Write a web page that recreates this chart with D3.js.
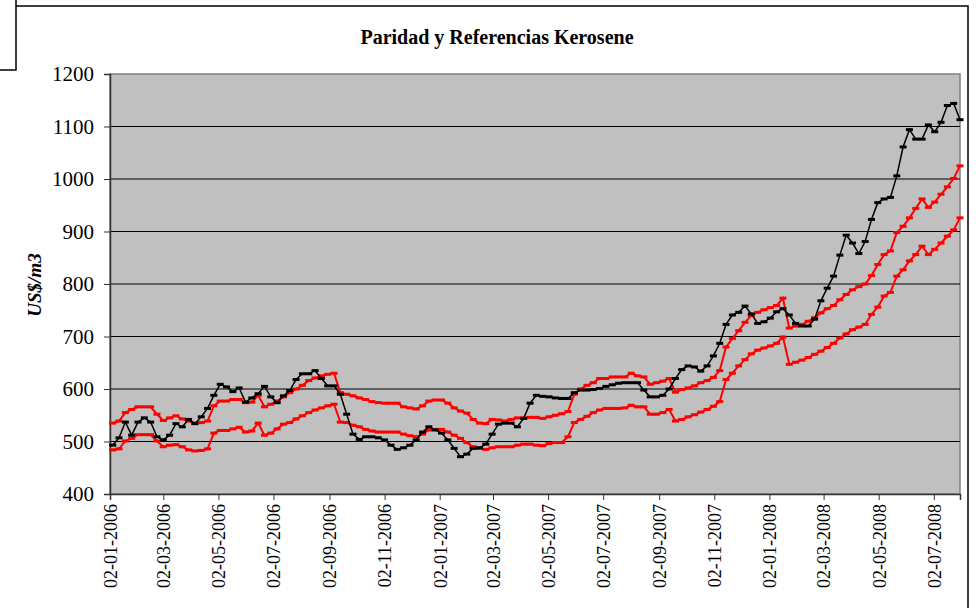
<!DOCTYPE html>
<html>
<head>
<meta charset="utf-8">
<script src="https://cdn.jsdelivr.net/npm/d3@7"></script>
<style>
  body { margin: 0; background: #fff; }
  svg { display: block; }
</style>
</head>
<body>
<div id="chart"></div>
<script>
// weekly observations, first one on 05-01-2006
const firstWeek = "05-01-2006";
const nWeeks = 135;

const tickLabels = ["02-01-2006", "02-03-2006", "02-05-2006", "02-07-2006", "02-09-2006",
  "02-11-2006", "02-01-2007", "02-03-2007", "02-05-2007", "02-07-2007", "02-09-2007",
  "02-11-2007", "02-01-2008", "02-03-2008", "02-05-2008", "02-07-2008"];

const yTicks = [400, 500, 600, 700, 800, 900, 1000, 1100, 1200];

// paridad (black)
const paridad = [493, 507, 537, 512, 537, 545, 537, 509, 503, 512, 534, 528, 542, 534, 547, 563,
  588, 609, 604, 595, 602, 575, 583, 591, 605, 585, 574, 587, 597, 618, 629, 629, 635, 620, 606,
  606, 590, 552, 514, 504, 509, 509, 507, 503, 493, 485, 488, 493, 503, 518, 528, 522, 516, 503,
  487, 471, 476, 487, 488, 495, 514, 533, 535, 535, 528, 544, 573, 588, 586, 585, 583, 582, 582,
  593, 598, 598, 599, 601, 605, 608, 611, 612, 612, 612, 598, 585, 585, 588, 600, 620, 637, 644,
  642, 634, 644, 663, 687, 723, 741, 746, 758, 743, 725, 728, 735, 747, 753, 741, 725, 720, 720,
  733, 768, 792, 815, 855, 893, 878, 858, 881, 923, 955, 962, 965, 1006, 1061, 1094, 1076, 1076,
  1103, 1090, 1108, 1140, 1144, 1113];

// referencia superior (red)
const refAlta = [535, 539, 555, 561, 566, 566, 566, 552, 540, 545, 549, 543, 539, 535, 536, 539,
  568, 577, 577, 580, 580, 574, 575, 588, 566, 571, 577, 585, 593, 600, 607, 616, 621, 625, 628,
  630, 593, 590, 587, 583, 580, 576, 574, 573, 573, 573, 566, 564, 562, 568, 577, 579, 579, 573,
  564, 558, 554, 542, 535, 534, 542, 541, 539, 542, 545, 545, 546, 546, 544, 547, 550, 553, 557,
  590, 600, 607, 612, 620, 620, 623, 623, 623, 630, 625, 623, 609, 612, 615, 620, 594, 599, 602,
  606, 612, 616, 622, 635, 680, 696, 711, 727, 740, 746, 751, 755, 759, 773, 716, 720, 723, 729,
  736, 745, 753, 759, 770, 780, 789, 795, 800, 816, 837, 856, 863, 898, 910, 926, 944, 962, 946,
  956, 971, 985, 1001, 1025];

// referencia inferior (red)
const refBaja = [484, 486, 501, 506, 513, 513, 513, 501, 490, 493, 494, 490, 484, 482, 483, 486,
  516, 521, 521, 524, 527, 518, 520, 535, 512, 516, 524, 533, 536, 543, 549, 555, 560, 564, 568,
  571, 537, 536, 531, 528, 523, 520, 518, 518, 518, 518, 514, 511, 509, 514, 522, 523, 523, 518,
  512, 506, 498, 490, 487, 485, 488, 490, 490, 490, 493, 495, 495, 493, 492, 496, 498, 498, 509,
  536, 542, 548, 555, 560, 563, 563, 563, 564, 569, 566, 566, 552, 552, 555, 561, 539, 542, 547,
  551, 556, 561, 567, 576, 618, 630, 644, 656, 667, 674, 678, 682, 687, 699, 647, 651, 655, 660,
  666, 672, 679, 687, 697, 705, 713, 718, 723, 742, 756, 777, 784, 815, 827, 844, 856, 872, 856,
  866, 878, 891, 903, 926];

const parseDate = d3.timeParse("%d-%m-%Y");
const dates = d3.range(nWeeks).map(i => d3.timeDay.offset(parseDate(firstWeek), 7 * i));

const W = 976, H = 608;
const plot = { left: 110, right: 960, top: 74, bottom: 494 };
const serif = "'Times New Roman', 'Liberation Serif', serif";

const svg = d3.select("#chart").append("svg")
    .attr("width", W)
    .attr("height", H);

svg.append("rect").attr("width", W).attr("height", H).attr("fill", "#fff");

// chart area frame
svg.append("path")
    .attr("d", "M16,0 V70 H0 M16,6 H968 V608")
    .attr("fill", "none")
    .attr("stroke", "#000")
    .attr("stroke-width", 1.5);

const x = d3.scaleTime()
    .domain([parseDate("02-01-2006"), parseDate("31-07-2008")])
    .range([plot.left, plot.right]);

const y = d3.scaleLinear()
    .domain([400, 1200])
    .range([plot.bottom, plot.top]);

// plot background
svg.append("rect")
    .attr("x", plot.left)
    .attr("y", plot.top)
    .attr("width", plot.right - plot.left)
    .attr("height", plot.bottom - plot.top)
    .attr("fill", "#c0c0c0")
    .attr("stroke", "#808080")
    .attr("stroke-width", 1.5);

// gridlines
svg.append("g")
    .selectAll("line")
    .data(yTicks.filter(v => v > 400 && v < 1200))
    .join("line")
    .attr("x1", plot.left)
    .attr("x2", plot.right)
    .attr("y1", d => y(d))
    .attr("y2", d => y(d))
    .attr("stroke", "#000")
    .attr("stroke-width", 1);

// y axis
const yAxis = svg.append("g")
    .attr("transform", `translate(${plot.left},0)`)
    .call(d3.axisLeft(y).tickValues(yTicks).tickSize(6).tickPadding(10).tickFormat(d3.format("d")));
yAxis.select(".domain").attr("stroke", "#333").attr("stroke-width", 1.5);
yAxis.selectAll(".tick line").attr("stroke", "#333");
yAxis.selectAll("text")
    .attr("font-family", serif)
    .attr("font-size", 21)
    .attr("fill", "#000");

// x axis
const xAxis = svg.append("g")
    .attr("transform", `translate(0,${plot.bottom})`)
    .call(d3.axisBottom(x).tickValues(tickLabels.map(parseDate)).tickSize(6)
        .tickFormat(d3.timeFormat("%d-%m-%Y")));
xAxis.select(".domain").attr("stroke", "#333").attr("stroke-width", 1.5);
xAxis.selectAll(".tick line").attr("stroke", "#333");
xAxis.selectAll("text")
    .attr("font-family", serif)
    .attr("font-size", 18)
    .attr("fill", "#000")
    .attr("text-anchor", "end")
    .attr("transform", "rotate(-90)")
    .attr("x", -10)
    .attr("y", 0)
    .attr("dy", "0.35em");

// series
const series = [
  { values: refBaja, color: "#ff0000", width: 2 },
  { values: refAlta, color: "#ff0000", width: 2 },
  { values: paridad, color: "#000000", width: 1.5 }
];

const line = d3.line()
    .x(d => x(d.date))
    .y(d => y(d.value));

series.forEach(s => {
    const pts = s.values.map((v, i) => ({ date: dates[i], value: v }));
    const g = svg.append("g");
    g.append("path")
        .datum(pts)
        .attr("d", line)
        .attr("fill", "none")
        .attr("stroke", s.color)
        .attr("stroke-width", s.width);
    g.selectAll("rect")
        .data(pts)
        .join("rect")
        .attr("x", d => x(d.date) - 3.5)
        .attr("y", d => y(d.value) - 1.5)
        .attr("width", 7)
        .attr("height", 3)
        .attr("fill", s.color);
});

// title
svg.append("text")
    .attr("x", 497)
    .attr("y", 44)
    .attr("text-anchor", "middle")
    .attr("font-family", serif)
    .attr("font-weight", "bold")
    .attr("font-size", 20)
    .text("Paridad y Referencias Kerosene");

// y label
svg.append("text")
    .attr("transform", "translate(41,285) rotate(-90)")
    .attr("text-anchor", "middle")
    .attr("font-family", serif)
    .attr("font-weight", "bold")
    .attr("font-style", "italic")
    .attr("font-size", 19)
    .text("US$/m3");
</script>
</body>
</html>
